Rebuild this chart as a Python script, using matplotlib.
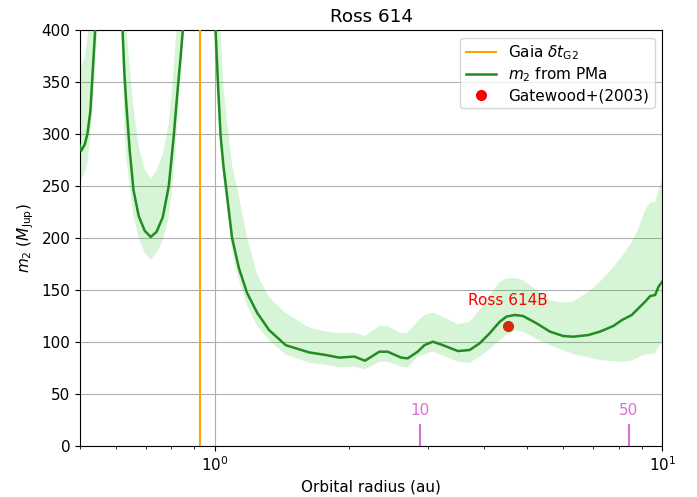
import numpy as np
import matplotlib
matplotlib.use('Agg')
import matplotlib.pyplot as plt
from matplotlib.ticker import NullFormatter

plt.rcParams['font.size'] = 11

# orbital radius (au) and companion mass (M_Jup)
radius = [0.496, 0.503, 0.512, 0.519, 0.527, 0.535, 0.541, 0.547, 0.579,
          0.616, 0.622, 0.628, 0.635, 0.645, 0.658, 0.676, 0.697, 0.719,
          0.741, 0.765, 0.789, 0.809, 0.826, 0.839, 0.852, 0.921,
          0.990, 1.004, 1.016, 1.030, 1.045, 1.060, 1.093, 1.132, 1.181,
          1.244, 1.322, 1.440, 1.625, 1.771, 1.897, 2.050, 2.166, 2.332,
          2.434, 2.609, 2.699, 2.841, 2.942, 3.071, 3.233, 3.494, 3.711,
          3.908, 4.115, 4.334, 4.486, 4.682, 4.887, 5.238, 5.611, 6.006,
          6.324, 6.836, 7.261, 7.778, 8.122, 8.554, 8.851, 9.163, 9.400,
          9.646, 9.810, 10.0]
m2 = [292, 284, 290, 300, 322, 370, 405, 440, 620,
      440, 400, 357, 325, 285, 246, 221, 207, 201,
      206, 220, 250, 297, 343, 375, 410, 800,
      440, 400, 350, 299, 270, 248, 200, 171, 147,
      128, 111.5, 97, 90, 87.5, 85, 86, 82, 90.7,
      90.7, 85, 84.3, 90.7, 97, 100.3, 97, 91.3, 92.3,
      98.7, 108.4, 119.5, 124.4, 126, 125, 118, 110, 105.8,
      105.1, 106.7, 110, 115.4, 121, 126, 132.4, 138.8, 144.2,
      145.2, 153, 158]
m2_low = [264, 256, 263, 272, 300, 335, 368, 405, 560,
          415, 370, 305, 275, 250, 221, 200, 186, 179,
          186, 197, 220, 262, 315, 362, 405, 700,
          420, 370, 320, 285, 256, 234, 187, 160, 135,
          115, 102, 88, 80, 78, 75.6, 76.3, 73.7, 81,
          81, 76.3, 75.6, 86, 88, 90.7, 87, 81, 80,
          85.9, 93, 102, 107, 111, 110, 103, 97, 92,
          88.5, 85, 82.7, 81.5, 81, 82, 85.5, 88, 88.5,
          89, 95.5, 99]
m2_high = [371, 365, 374, 392, 420, 460, 500, 540, 720,
           560, 520, 470, 400, 365, 325, 287, 266, 257,
           265, 281, 310, 360, 420, 470, 520, 900,
           520, 480, 440, 400, 345, 320, 270, 240, 200,
           165, 143, 128, 114, 110, 108.4, 109, 105.8, 115.4,
           115.4, 108.4, 109, 120, 126, 128.5, 124.4, 117, 119.5,
           131, 145, 158, 161, 161.5, 159.6, 150, 140, 137.8,
           139, 148, 158, 172, 182, 196, 209, 227, 234,
           235, 246, 256]

gaia_dt = 0.926
gate_a, gate_m = 4.52, 115.5
period_a = [2.88, 8.43]
period_lab = ['10', '50']

fig = plt.figure(figsize=(6.97, 4.97), dpi=100)
ax = fig.add_axes([0.115, 0.1026, 0.835, 0.837])

ax.plot(gate_a, gate_m, 'o', color='red', ms=7, label='Gatewood+(2003)', zorder=1)
ax.fill_between(radius, m2_low, m2_high, color='limegreen', alpha=0.2, lw=0, zorder=2)
ax.axvline(gaia_dt, color='orange', lw=1.5, label=r'Gaia $\delta t_{\rm G2}$', zorder=3)
ax.plot(radius, m2, color='forestgreen', lw=1.8, label=r'$m_2$ from PMa', zorder=4)
ax.text(gate_a, 140, 'Ross 614B', color='red', ha='center', va='center')

for a, lab in zip(period_a, period_lab):
    ax.plot([a, a], [0, 20], color='orchid', lw=1.5)
    ax.text(a, 34, lab, color='orchid', ha='center', va='center')

ax.set_xscale('log')
ax.set_xlim(0.5, 10)
ax.set_ylim(0, 400)
ax.set_yticks(np.arange(0, 401, 50))
ax.xaxis.set_minor_formatter(NullFormatter())
ax.grid(True, color='#b0b0b0', lw=0.8)
ax.set_xlabel('Orbital radius (au)')
ax.set_ylabel(r'$m_2$ ($M_{\rm Jup}$)')
ax.set_title('Ross 614')

h, l = ax.get_legend_handles_labels()
order = [l.index(r'Gaia $\delta t_{\rm G2}$'), l.index(r'$m_2$ from PMa'), l.index('Gatewood+(2003)')]
ax.legend([h[i] for i in order], [l[i] for i in order], loc='upper right',
          labelspacing=0.25, borderpad=0.35)

fig.savefig('out.png')
